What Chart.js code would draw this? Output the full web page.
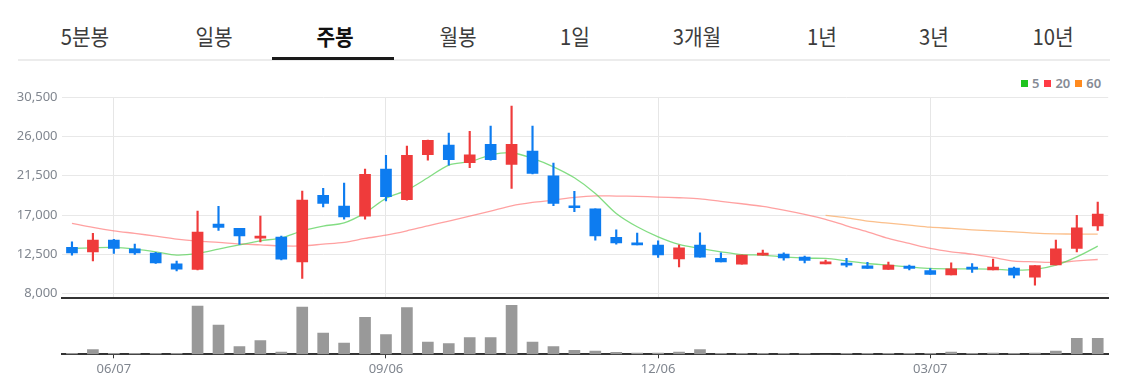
<!DOCTYPE html>
<html><head><meta charset="utf-8">
<script src="https://cdn.jsdelivr.net/npm/chart.js@4.4.1/dist/chart.umd.min.js"></script>
<style>
html,body{margin:0;padding:0;background:#fff;width:1128px;height:383px;overflow:hidden;font-family:"Noto Sans CJK KR","Noto Sans",sans-serif;}
.tab{position:absolute;top:18px;font-size:22px;color:#3c3c3c;transform:translateX(-50%) scaleX(0.92);white-space:nowrap;line-height:34px;}
.tab.on{color:#111;font-weight:700;}
#uline{position:absolute;left:272px;top:57px;width:122px;height:3px;background:#1a1a1a;}
#gline{position:absolute;left:18px;top:59px;width:1092px;height:2px;background:#ececec;}
#legend{position:absolute;top:75px;left:1021px;font:600 13px "Noto Sans",sans-serif;color:#868b95;white-space:nowrap;line-height:16px;}
#legend span.sq{display:inline-block;width:7px;height:7px;margin-right:4px;vertical-align:1px;}
#legend span.t{margin-right:5px;}
#price{position:absolute;left:0;top:62px;}
#vol{position:absolute;left:0;top:290px;}
</style>
</head><body>
<div id="tabs"></div>
<div id="gline"></div>
<div id="uline"></div>
<div id="legend"></div>
<canvas id="price" width="1128" height="248"></canvas>
<canvas id="vol" width="1128" height="93"></canvas>
<script>
const tabLabels = ['5분봉','일봉','주봉','월봉','1일','3개월','1년','3년','10년'];
const activeTab = '주봉';

const categories = ['05/24','05/31','06/07','06/14','06/21','06/28','07/05','07/12','07/19','07/26',
'08/02','08/09','08/16','08/23','08/30','09/06','09/13','09/20','09/27','10/04',
'10/11','10/18','10/25','11/01','11/08','11/15','11/22','11/29','12/06','12/13',
'12/20','12/27','01/03','01/10','01/17','01/24','01/31','02/07','02/14','02/21',
'02/28','03/07','03/14','03/21','03/28','04/04','04/11','04/18','04/25','05/02'];
const tickLabels = ['06/07','09/06','12/06','03/07'];
const yTicks = [8000,12500,17000,21500,26000,30500];

const opens  = [13280,12780,14120,13120,12630,11400,10760,15960,15460,14350,
14460,11630,19250,18020,16870,22270,18750,23910,25030,22990,
25110,22810,24340,21500,18020,17710,14430,13770,13550,11970,
13550,12020,11360,12400,12510,12170,11400,11440,11170,10760,
11130,10640,10140,11020,10710,10900,9870,11280,13170,15760];
const closes = [12660,14120,13170,12660,11510,10790,15040,15580,14610,14580,
11940,18710,18330,16790,21660,19090,23840,25560,23340,23910,
23340,25110,21780,18330,17830,14610,13810,13580,12430,13240,
12170,11630,12400,12630,12090,11790,11590,11250,10870,11250,
10870,10180,10820,10790,11020,10100,11210,13120,15530,17100];
const highs  = [13920,14890,14200,13660,12710,11710,17450,17990,15460,16870,
14580,19740,20050,20660,22270,23840,24910,25600,26400,26600,
27210,29500,27210,22960,19710,17710,15300,14920,14040,13550,
14960,12660,12400,12970,12660,12280,11820,12020,11560,11590,
11250,10870,11510,11440,11940,11020,11210,14120,16950,18480];
const lows   = [12400,11740,12590,12480,11440,10590,10700,15230,13630,13920,
11860,9720,17940,16530,16530,18630,18700,23300,22730,22420,
23300,20050,21700,18060,17370,14120,13660,13580,12130,11050,
12170,11630,11360,12400,11820,11510,11400,11050,10870,10760,
10710,10180,10140,10410,10710,9790,8950,11280,12780,15230];

const ma5  = [13170,13240,13280,13090,12780,12400,12590,13090,13580,14040,
14380,15190,15730,16100,17250,18910,19860,21270,22730,23110,
23880,24140,23500,22530,21270,19480,17180,15650,14500,13630,
13170,12780,12450,12400,12200,12050,12020,11740,11440,11250,
11050,10870,10820,10820,10790,10680,10760,11250,12200,13430];
const ma20 = [16040,15580,15190,14890,14580,14230,14000,13860,13690,13580,
13460,13460,13660,13860,14310,14690,15190,15760,16300,16870,
17450,18060,18450,18710,19020,19200,19170,19140,19060,18980,
18860,18560,18290,17990,17560,17070,16500,15760,15070,14310,
13740,13170,12780,12510,12130,11710,11630,11560,11740,11900];
const ma60 = [null,null,null,null,null,null,null,null,null,null,
null,null,null,null,null,null,null,null,null,null,
null,null,null,null,null,null,null,null,null,null,
null,null,null,null,null,null,16950,16680,16300,16070,
15840,15610,15460,15300,15190,15070,14920,14840,14810,14810];

const volumes = [30000,140000,30000,30000,30000,30000,1450000,880000,230000,410000,
70000,1420000,640000,340000,1110000,590000,1400000,370000,320000,500000,
500000,1470000,370000,230000,120000,100000,60000,40000,40000,70000,
140000,30000,30000,30000,30000,30000,0,30000,30000,30000,
30000,30000,70000,30000,40000,30000,40000,100000,480000,480000];

const legendItems = [['5','#1fc41f'],['20','#ff3b45'],['60','#ff8a1e']];

// tabs
const tabX = [85,214,335,458,575,697,822,934,1053];
const tabsEl = document.getElementById('tabs');
tabLabels.forEach((t,i)=>{
  const d=document.createElement('div');
  d.className='tab'+(t===activeTab?' on':'');
  d.style.left=tabX[i]+'px';
  d.textContent=t;
  tabsEl.appendChild(d);
});
const lg=document.getElementById('legend');
legendItems.forEach(([t,c])=>{
  const s=document.createElement('span');s.className='sq';s.style.background=c;lg.appendChild(s);
  const tt=document.createElement('span');tt.className='t';tt.textContent=t;lg.appendChild(tt);
});

const UP='#ef3b3b', DOWN='#0d7cf0';
const candleColor = ctx => (closes[ctx.dataIndex] >= opens[ctx.dataIndex] ? UP : DOWN);
const gridX = ctx => (tickLabels.includes(categories[ctx.index]) ? '#e6e6e6' : 'rgba(0,0,0,0)');
const FONT = '"Noto Sans", sans-serif';

new Chart(document.getElementById('price'), {
  type:'bar',
  data:{labels:categories, datasets:[
    {type:'line', label:'60', data:ma60, borderColor:'rgba(250,170,100,0.75)', borderWidth:1.3, pointRadius:0, tension:0.3, order:5, spanGaps:false},
    {type:'line', label:'20', data:ma20, borderColor:'rgba(255,110,110,0.65)', borderWidth:1.3, pointRadius:0, tension:0.3, order:4},
    {type:'line', label:'5', data:ma5, borderColor:'rgba(90,210,90,0.75)', borderWidth:1.3, pointRadius:0, tension:0.3, order:3},
    {label:'wick', data:categories.map((c,i)=>[lows[i],highs[i]]), backgroundColor:candleColor, barThickness:1.5, grouped:false, order:2},
    {label:'body', data:categories.map((c,i)=>[opens[i],closes[i]]), backgroundColor:candleColor, barThickness:11, grouped:false, minBarLength:2, order:1}
  ]},
  options:{
    responsive:false, animation:false, devicePixelRatio:1,
    layout:{padding:{top:35.3,bottom:2,left:0,right:19.8}},
    plugins:{legend:{display:false}, tooltip:{enabled:false}},
    scales:{
      x:{offset:true, grid:{offset:false, color:gridX, drawTicks:false, lineWidth:1},
         border:{display:true, color:'#333', width:2},
         ticks:{display:false, autoSkip:false},
         afterFit:s=>{s.height=0;}},
      y:{min:7460, max:30500,
         afterBuildTicks:s=>{s.ticks=yTicks.map(v=>({value:v}));},
         ticks:{callback:v=>Number(v).toLocaleString('en-US'), color:'#80868f', font:{size:13, family:FONT}, padding:4},
         grid:{color:'#e8e8e8', drawTicks:false, lineWidth:1},
         border:{display:false},
         afterFit:s=>{s.width=61.5;}}
    }
  }
});

new Chart(document.getElementById('vol'), {
  type:'bar',
  data:{labels:categories, datasets:[{label:'volume', data:volumes, backgroundColor:'#999999', barThickness:11}]},
  options:{
    responsive:false, animation:false, devicePixelRatio:1,
    layout:{padding:{top:8,bottom:0,left:61.5,right:19.8}},
    plugins:{legend:{display:false}, tooltip:{enabled:false}},
    scales:{
      x:{offset:true,
         grid:{offset:false, drawOnChartArea:false, drawTicks:true, tickLength:4, tickColor:ctx=>(tickLabels.includes(categories[ctx.index])?'#333':'rgba(0,0,0,0)'), color:'rgba(0,0,0,0)'},
         border:{display:true, color:'#333', width:2},
         ticks:{autoSkip:false, maxRotation:0, minRotation:0, padding:3, color:'#80868f', font:{size:13, family:FONT},
                callback:(v,i)=>(tickLabels.includes(categories[i])?categories[i]:'')},
         afterFit:s=>{s.height=28.7;}},
      y:{display:false, min:0, max:1690000}
    }
  }
});
</script>
</body></html>
